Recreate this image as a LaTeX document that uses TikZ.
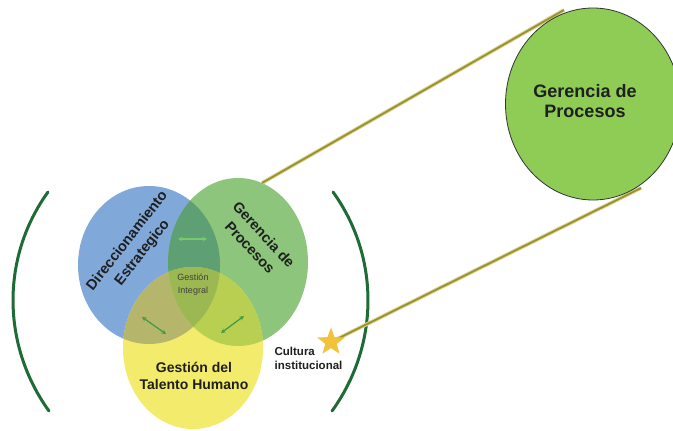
\documentclass[tikz,border=0pt]{standalone}
\usepackage{fontspec}
\setmainfont{Liberation Sans}
\usetikzlibrary{shapes.geometric,arrows.meta}
\definecolor{cblue}{HTML}{80A8D8}
\definecolor{cgreen}{HTML}{8CC57B}
\definecolor{cyellow}{HTML}{F3EB6C}
\definecolor{cbg}{HTML}{5E9F74}
\definecolor{cby}{HTML}{B5B66C}
\definecolor{cgy}{HTML}{B8CF52}
\definecolor{cbgy}{HTML}{9CB852}
\definecolor{brk}{HTML}{1F6B35}
\definecolor{olivecore}{HTML}{9A9228}
\definecolor{olivehalo}{HTML}{D9D59C}
\definecolor{bigfill}{HTML}{8FCC56}
\definecolor{gold}{HTML}{F2C23A}
\definecolor{arrlight}{HTML}{78C96C}
\definecolor{arrdark}{HTML}{3F9A45}
\begin{document}
\begin{tikzpicture}[x=1pt,y=-1pt,
  bracket/.style={draw=brk, line width=3pt, line cap=round},
  halo/.style={draw=olivehalo, line width=3.8pt},
  core/.style={draw=olivecore, line width=1.8pt},
  dbl/.style={{Stealth[length=4.5pt,width=4.5pt]}-{Stealth[length=4.5pt,width=4.5pt]}, line width=1.2pt},
  lbl/.style={font=\bfseries\fontsize{14.5}{19}\selectfont, align=center, text=black!88, inner sep=0pt},
]
\useasboundingbox (0,0) rectangle (673,431);
\clip (0,0) rectangle (673,431);
\fill[white] (0,0) rectangle (673,431);

% centres
\coordinate (B) at (149,265);
\coordinate (G) at (238,262);
\coordinate (Y) at (193,348);

% base ellipses
\fill[cblue] (B) ellipse [x radius=71pt, y radius=79pt];
\fill[cgreen] (G) ellipse [x radius=70pt, y radius=84pt];
\fill[cyellow] (Y) ellipse [x radius=70pt, y radius=81pt];
% overlaps
\begin{scope}
  \clip (B) ellipse [x radius=71pt, y radius=79pt];
  \fill[cbg] (G) ellipse [x radius=70pt, y radius=84pt];
  \fill[cby] (Y) ellipse [x radius=70pt, y radius=81pt];
\end{scope}
\begin{scope}
  \clip (G) ellipse [x radius=70pt, y radius=84pt];
  \fill[cgy] (Y) ellipse [x radius=70pt, y radius=81pt];
\end{scope}
\begin{scope}
  \clip (B) ellipse [x radius=71pt, y radius=79pt];
  \clip (G) ellipse [x radius=70pt, y radius=84pt];
  \fill[cbgy] (Y) ellipse [x radius=70pt, y radius=81pt];
\end{scope}

% brackets
\coordinate (bl1) at (48,192);
\coordinate (bl2) at (49,411);
\coordinate (br1) at (333,192);
\coordinate (br2) at (332,411);
\draw[bracket] (bl1) .. controls (0.7,257.5) and (1.7,345.5) .. (bl2);
\draw[bracket] (br1) .. controls (380.3,257.5) and (379.3,345.5) .. (br2);

% connector lines
\coordinate (u1) at (262,183);
\coordinate (u2) at (564,10);
\coordinate (l2) at (641,188);
\node[star, star points=5, star point ratio=2.4, minimum size=29pt, inner sep=0pt] (st) at (331,342) {};
\draw[halo] (u1) -- (u2);
\draw[core] (u1) -- (u2);
\draw[halo] (st.center) -- (l2);
\draw[core] (st.center) -- (l2);
\node[star, star points=5, star point ratio=2.4, minimum size=29pt, inner sep=0pt, fill=gold] at (st.center) {};

% big ellipse
\node[ellipse, draw=black!80, line width=0.8pt, fill=bigfill, minimum width=175pt, minimum height=192pt, inner sep=0pt] (GPbig) at (593,104) {};
\node[font=\bfseries\fontsize{18}{20.5}\selectfont, align=center, text=black!88] (tBig) at (585,101) {Gerencia de\\Procesos};

% double arrows
\coordinate (a1) at (178,239);
\coordinate (a2) at (207,239);
\coordinate (a3) at (142,317);
\coordinate (a4) at (166,334);
\coordinate (a5) at (221,333);
\coordinate (a6) at (244,316);
\draw[dbl, draw=arrlight, fill=arrlight] (a1) -- (a2);
\draw[dbl, draw=arrdark, fill=arrdark] (a3) -- (a4);
\draw[dbl, draw=arrdark, fill=arrdark] (a5) -- (a6);

% texts
\node[lbl, rotate=52] (tDE) at (135,247) {Direccionamiento\\Estrategico};
\node[lbl, rotate=-47] (tGP) at (257,241) {Gerencia de\\Procesos};
\node[lbl, font=\bfseries\fontsize{14}{17}\selectfont] (tTH) at (194,376) {Gestión del\\Talento Humano};
\node[font=\fontsize{9}{13}\selectfont, align=center, text=black!75, inner sep=0pt] (tGI) at (193,285) {Gestión\\Integral};
\node[font=\bfseries\fontsize{11.5}{14}\selectfont, align=left, text=black!88, inner sep=0pt] (tCI) at (308.5,358) {Cultura\\institucional};
\end{tikzpicture}
\end{document}
